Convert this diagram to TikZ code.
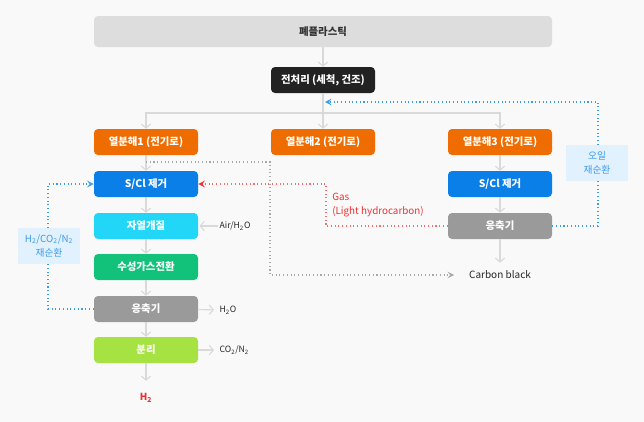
\documentclass[tikz,border=0pt]{standalone}
\usepackage{fontspec}
\setmainfont{Noto Sans CJK KR}
\usetikzlibrary{arrows.meta}
\definecolor{paper}{HTML}{F9F9F9}
\definecolor{wastegray}{HTML}{DDDDDD}
\definecolor{pretreat}{HTML}{222222}
\definecolor{pyro}{HTML}{EF6C00}
\definecolor{sclblue}{HTML}{0A7FE8}
\definecolor{atrcyan}{HTML}{22D6F8}
\definecolor{wgsgreen}{HTML}{12C27A}
\definecolor{condgray}{HTML}{9A9A9A}
\definecolor{seplime}{HTML}{A6E241}
\definecolor{flowgray}{HTML}{D9D9D9}
\definecolor{dotgray}{HTML}{A8A8A8}
\definecolor{gasred}{HTML}{EE3030}
\definecolor{loopblue}{HTML}{3C9BEF}
\definecolor{loopfill}{HTML}{E1F1FD}
\begin{document}
\begin{tikzpicture}[x=0.75pt,y=-0.75pt,
  procbox/.style={rounded corners=3pt, minimum width=78pt, minimum height=19.5pt,
    inner sep=0pt, text=white, font=\bfseries\fontsize{7.8}{9}\selectfont},
  sidelabel/.style={text=black!85, font=\fontsize{6.5}{8}\selectfont, inner sep=1pt},
  looplabel/.style={fill=loopfill, text=loopblue, align=center, minimum width=47pt,
    minimum height=27pt, inner sep=0pt, font=\fontsize{7.3}{11}\selectfont},
  flow/.style={draw=flowgray, line width=0.8pt, -{Straight Barb[length=3pt,width=7pt]}},
  dotline/.style={dotted, line width=0.8pt, -{Stealth[length=5pt,width=5pt,inset=2pt]}}]
\fill[paper] (0,0) rectangle (644,422);
\node[procbox, fill=wastegray, text=black!80, minimum width=343.5pt, minimum height=23.25pt] (waste) at (323,31.5) {폐플라스틱};
\node[procbox, fill=pretreat] (pre) at (323,80) {전처리 (세척, 건조)};
\node[procbox, fill=pyro] (pyroA) at (146,142) {열분해1 (전기로)};
\node[procbox, fill=pyro] (pyroB) at (323,142) {열분해2 (전기로)};
\node[procbox, fill=pyro] (pyroC) at (500,142) {열분해3 (전기로)};
\node[procbox, fill=sclblue] (sclA) at (146,184) {S/Cl 제거};
\node[procbox, fill=atrcyan] (atr) at (146,226) {자열개질};
\node[procbox, fill=wgsgreen] (wgs) at (146,267) {수성가스전환};
\node[procbox, fill=condgray] (condA) at (146,309) {응축기};
\node[procbox, fill=seplime] (sep) at (146,350) {분리};
\node[text=gasred, font=\bfseries\fontsize{7.3}{8}\selectfont] (htwo) at (146,398) {H\textsubscript{2}};
\node[procbox, fill=sclblue] (sclC) at (500,184) {S/Cl 제거};
\node[procbox, fill=condgray] (condC) at (500,226) {응축기};
\node[sidelabel, font=\fontsize{7.5}{9}\selectfont] (carbon) at (500,275) {Carbon black};
\node[sidelabel, anchor=west] (air) at (218,226) {Air/H\textsubscript{2}O};
\node[sidelabel, anchor=west] (water) at (218,310) {H\textsubscript{2}O};
\node[sidelabel, anchor=west] (offgas) at (218,350) {CO\textsubscript{2}/N\textsubscript{2}};
\node[text=gasred, anchor=north west, align=left, inner sep=0pt, font=\fontsize{7.4}{10.5}\selectfont] (gas) at (332,193) {Gas\\(Light hydrocarbon)};
\coordinate (split) at (323,113);
\coordinate (tap) at (146,162);
\coordinate (oilin) at (325,102);
\draw[flow] (waste) -- (pre);
\draw[flow] (pre) -- (pyroB);
\draw[flow] (split) -| (pyroA);
\draw[flow] (split) -| (pyroC);
\draw[flow] (pyroA) -- (sclA);
\draw[flow] (sclA) -- (atr);
\draw[flow] (atr) -- (wgs);
\draw[flow] (wgs) -- (condA);
\draw[flow] (condA) -- (sep);
\draw[flow, shorten >=6pt] (sep) -- (htwo);
\draw[flow] (pyroC) -- (sclC);
\draw[flow] (sclC) -- (condC);
\draw[flow, shorten >=5pt] (condC) -- (carbon);
\draw[flow, shorten >=1pt] (air) -- (atr);
\draw[flow, shorten >=3pt] (condA) -- (water);
\draw[flow, shorten >=3pt] (sep) -- (offgas);
\draw[dotline, draw=dotgray, shorten >=10pt] (tap) -- (270,162) |- (carbon.west);
\draw[dotline, draw=gasred!70, -{Stealth[length=5pt,width=5pt,inset=2pt,gasred]}] (condC.west) -- (326,226) |- (sclA.east);
\draw[dotline, draw=loopblue] (condC.east) -- (598,226) |- (oilin);
\draw[dotline, draw=loopblue] (condA.west) -- (48,309) |- (sclA.west);
\node[looplabel] (oilloop) at (597,163) {오일\\재순환};
\node[looplabel] (gasloop) at (49,246) {H\textsubscript{2}/CO\textsubscript{2}/N\textsubscript{2}\\재순환};
\end{tikzpicture}
\end{document}
